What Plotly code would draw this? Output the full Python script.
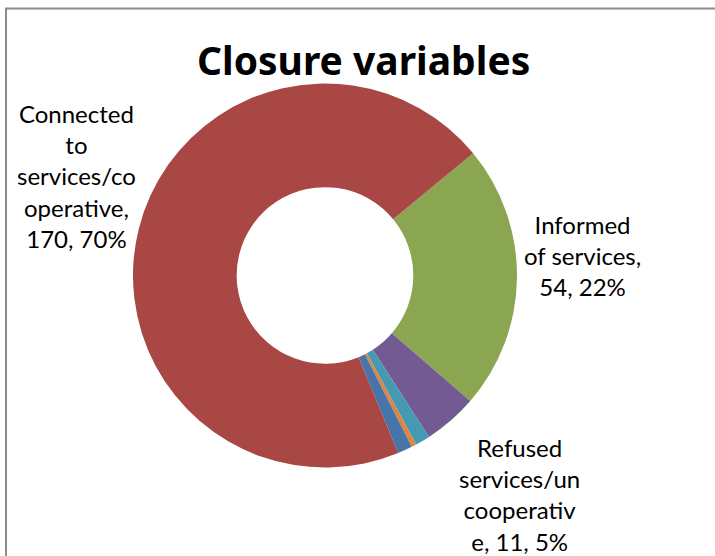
import plotly.graph_objects as go

# Data (clockwise order starting at the green slice)
categories = ["Informed of services", "Refused services/uncooperative",
              "Moved away", "Deceased", "Other", "Connected to services/cooperative"]
values = [54, 11, 3, 1, 3, 170]
label_display = ["Informed<br>of services,", "Refused<br>services/un<br>cooperativ<br>e,", None, None, None,
                 "Connected<br>to<br>services/co<br>operative,"]
colors = ["#8AA650", "#745A92", "#4699B2", "#E1853C", "#4775AA", "#A84744"]
title_text = "Closure variables"

W, H = 715, 556
total = sum(values)

fig = go.Figure()
fig.add_trace(go.Pie(
    labels=categories, values=values, sort=False, direction="clockwise",
    rotation=50.5, hole=0.46,
    marker=dict(colors=colors, line=dict(width=0)),
    textinfo="none", hoverinfo="label+value+percent", showlegend=False,
    domain=dict(x=[133 / W, 517 / W], y=[1 - 468 / H, 1 - 83 / H]),
))

# Data labels (positions in pixels of the reference)
label_pos = {0: (582, 255), 1: (519, 494), 5: (76, 176)}
for i, (px, py) in label_pos.items():
    pct = round(values[i] / total * 100)
    sep = " " if i == 1 else "<br>"
    text = f"{label_display[i]}{sep}{values[i]}, {pct}%"
    fig.add_annotation(x=px / W, y=1 - py / H, xref="paper", yref="paper",
                       text=text, showarrow=False, xanchor="center", yanchor="middle",
                       font=dict(family="Lato", size=24, color="#000000"))

fig.add_annotation(x=364 / W, y=1 - 59 / H, xref="paper", yref="paper",
                   text=f"<b>{title_text}</b>", showarrow=False,
                   xanchor="center", yanchor="middle",
                   font=dict(family="Noto Sans", size=39, color="#000000"))

fig.add_shape(type="rect", xref="paper", yref="paper",
              x0=6 / W, x1=1.05, y0=-0.05, y1=1 - 8.5 / H,
              line=dict(color="#8C8C8C", width=2), fillcolor="rgba(0,0,0,0)")

fig.update_layout(width=W, height=H, margin=dict(l=0, r=0, t=0, b=0),
                  paper_bgcolor="white", plot_bgcolor="white")
fig.write_html("out.html", config={"displayModeBar": False})

# remove the default browser body margin so the figure sits at the page origin
with open("out.html", "r", encoding="utf-8") as f:
    html = f.read()
html = html.replace("<body>", '<body style="margin:0;padding:0;overflow:hidden">', 1)
with open("out.html", "w", encoding="utf-8") as f:
    f.write(html)
